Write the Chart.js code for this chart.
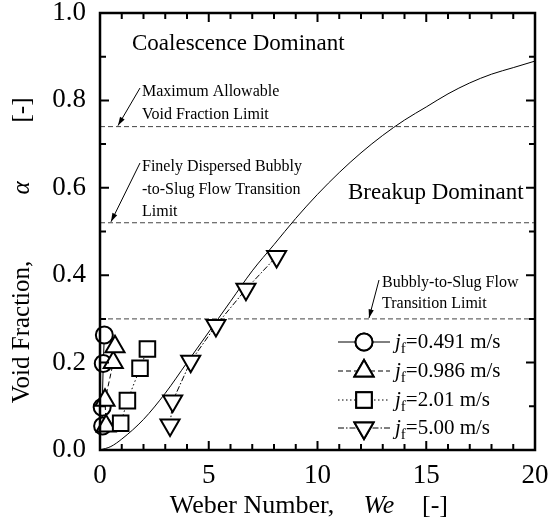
<!DOCTYPE html>
<html>
<head>
<script src="https://cdn.jsdelivr.net/npm/chart.js"></script>
<style>body{margin:0;background:#fff}</style>
</head>
<body>
<canvas id="c" width="554" height="528"></canvas>
<script>
// model curve
var weModel = [0, 0.5, 1, 2, 3, 4, 5, 6, 7, 8, 9, 10, 11, 12, 13, 14, 15, 16, 17, 18, 19, 20];
var alphaModel = [0, 0.008, 0.025, 0.07, 0.13, 0.2, 0.27, 0.34, 0.41, 0.47, 0.53, 0.585, 0.635, 0.68, 0.72, 0.755, 0.785, 0.815, 0.84, 0.86, 0.875, 0.89];

// measured points
var we0491 = [0.12, 0.1, 0.15, 0.2];
var alpha0491 = [0.055, 0.098, 0.198, 0.263];
var we0986 = [0.28, 0.23, 0.61, 0.69];
var alpha0986 = [0.055, 0.114, 0.2, 0.236];
var we201 = [0.95, 1.26, 1.84, 2.18];
var alpha201 = [0.061, 0.113, 0.187, 0.231];
var we500 = [3.22, 3.34, 4.17, 5.33, 6.71, 8.12];
var alpha500 = [0.057, 0.112, 0.203, 0.285, 0.368, 0.443];

// horizontal limits
var limitLevels = [0.74, 0.52, 0.30];

var seriesLabels = ['0.491 m/s', '0.986 m/s', '2.01 m/s', '5.00 m/s'];

var SERIF = '"Liberation Serif", "DejaVu Serif", serif';

function pts(xs, ys) {
  var out = [];
  for (var i = 0; i < xs.length; i++) out.push({x: xs[i], y: ys[i]});
  return out;
}

var datasets = [];
limitLevels.forEach(function(v) {
  datasets.push({
    data: [{x: 0, y: v}, {x: 20, y: v}],
    showLine: true, pointRadius: 0, borderColor: '#444', borderWidth: 1,
    borderDash: [5, 3], order: 7
  });
});
datasets.push({
  data: pts(weModel, alphaModel), showLine: true, pointRadius: 0,
  borderColor: '#000', borderWidth: 1, cubicInterpolationMode: 'monotone', order: 6
});

var styles = [
  {pointStyle: 'circle', radius: 8.5, rot: 0, dash: [], order: 4},
  {pointStyle: 'triangle', radius: 11, rot: 0, dash: [5, 3], order: 3},
  {pointStyle: 'rect', radius: 11, rot: 0, dash: [1.5, 2.5], order: 2},
  {pointStyle: 'triangle', radius: 11, rot: 180, dash: [6, 2, 1.5, 2], order: 1}
];
var seriesData = [pts(we0491, alpha0491), pts(we0986, alpha0986), pts(we201, alpha201), pts(we500, alpha500)];
seriesData.forEach(function(d, i) {
  var s = styles[i];
  datasets.push({
    data: d, showLine: true, clip: false,
    borderColor: '#000', borderWidth: 1, borderDash: s.dash,
    pointStyle: s.pointStyle, pointRadius: s.radius, pointRotation: s.rot,
    pointBorderWidth: 2, pointBorderColor: '#000', pointBackgroundColor: '#fff',
    order: s.order
  });
});

function drawArrow(ctx, x1, y1, x2, y2) {
  ctx.beginPath();
  ctx.moveTo(x1, y1);
  ctx.lineTo(x2, y2);
  ctx.stroke();
  var a = Math.atan2(y2 - y1, x2 - x1);
  ctx.beginPath();
  ctx.moveTo(x2, y2);
  ctx.lineTo(x2 - 9 * Math.cos(a - 0.3), y2 - 9 * Math.sin(a - 0.3));
  ctx.lineTo(x2 - 9 * Math.cos(a + 0.3), y2 - 9 * Math.sin(a + 0.3));
  ctx.closePath();
  ctx.fill();
}

var decorations = {
  id: 'decorations',
  afterDraw: function(chart) {
    var ctx = chart.ctx;
    var xs = chart.scales.x, ys = chart.scales.y;
    var ca = chart.chartArea;
    ctx.save();
    ctx.strokeStyle = '#000';
    ctx.fillStyle = '#000';

    // inward ticks on all four sides
    ctx.lineWidth = 2;
    for (var i = 0; i <= 20; i++) {
      var px = xs.getPixelForValue(i);
      var len = (i % 5 === 0) ? 9 : 6;
      ctx.beginPath();
      ctx.moveTo(px, ca.bottom); ctx.lineTo(px, ca.bottom - len);
      ctx.moveTo(px, ca.top); ctx.lineTo(px, ca.top + len);
      ctx.stroke();
    }
    for (var j = 0; j <= 10; j++) {
      var py = ys.getPixelForValue(j / 10);
      var l2 = (j % 2 === 0) ? 9 : 6;
      ctx.beginPath();
      ctx.moveTo(ca.left, py); ctx.lineTo(ca.left + l2, py);
      ctx.moveTo(ca.right, py); ctx.lineTo(ca.right - l2, py);
      ctx.stroke();
    }
    ctx.lineWidth = 2.5;
    ctx.strokeRect(ca.left, ca.top, ca.right - ca.left, ca.bottom - ca.top);

    // region labels
    ctx.textBaseline = 'middle';
    ctx.textAlign = 'left';
    ctx.font = '23px ' + SERIF;
    ctx.fillText('Coalescence Dominant', 132, 44);
    ctx.fillText('Breakup Dominant', 348, 193);
    ctx.font = '16px ' + SERIF;
    ctx.fillText('Maximum Allowable', 142, 92);
    ctx.fillText('Void Fraction Limit', 142, 115);
    ctx.fillText('Finely Dispersed Bubbly', 142, 167);
    ctx.fillText('-to-Slug Flow Transition', 142, 190);
    ctx.fillText('Limit', 142, 212);
    ctx.fillText('Bubbly-to-Slug Flow', 382, 283);
    ctx.fillText('Transition Limit', 382, 304);

    ctx.lineWidth = 1;
    drawArrow(ctx, 140, 88, 118, ys.getPixelForValue(limitLevels[0]) - 1);
    drawArrow(ctx, 140, 163, 111, ys.getPixelForValue(limitLevels[1]) - 1);
    drawArrow(ctx, 379, 280, 369, ys.getPixelForValue(limitLevels[2]) - 1);

    // legend
    var rows = [342, 371, 400, 428];
    for (var k = 0; k < 4; k++) {
      var s = styles[k];
      var y = rows[k];
      ctx.lineWidth = 1;
      ctx.setLineDash(s.dash);
      ctx.beginPath();
      ctx.moveTo(338, y); ctx.lineTo(390, y);
      ctx.stroke();
      ctx.setLineDash([]);
      ctx.lineWidth = 2;
      ctx.fillStyle = '#fff';
      Chart.helpers.drawPoint(ctx, {pointStyle: s.pointStyle, radius: s.radius, rotation: s.rot, borderWidth: 2}, 364, y);
      ctx.fill();
      ctx.stroke();
      ctx.fillStyle = '#000';
      var tx = 395;
      ctx.font = 'italic 21px ' + SERIF;
      ctx.fillText('j', tx, y);
      tx += ctx.measureText('j').width;
      ctx.font = '15px ' + SERIF;
      ctx.fillText('f', tx, y + 7);
      tx += ctx.measureText('f').width;
      ctx.font = '21px ' + SERIF;
      ctx.fillText('=' + seriesLabels[k], tx, y);
    }

    // axis titles
    ctx.font = '26px ' + SERIF;
    ctx.textAlign = 'center';
    ctx.fillText('Weber Number,', 252, 506);
    ctx.fillText('[-]', 435, 506);
    ctx.font = 'italic 26px ' + SERIF;
    ctx.fillText('We', 379, 506);
    ctx.save();
    ctx.translate(22, 0);
    ctx.rotate(-Math.PI / 2);
    ctx.font = '25px ' + SERIF;
    ctx.fillText('Void Fraction,', -332, 0);
    ctx.fillText('[-]', -110, 0);
    ctx.font = 'italic 25px ' + SERIF;
    ctx.fillText('\u03b1', -188, 0);
    ctx.restore();
    ctx.restore();
  }
};

new Chart(document.getElementById('c'), {
  type: 'scatter',
  data: {datasets: datasets},
  options: {
    responsive: false,
    animation: false,
    devicePixelRatio: 1,
    layout: {padding: {left: 0, right: 19, top: 12, bottom: 0}},
    plugins: {legend: {display: false}, tooltip: {enabled: false}},
    scales: {
      x: {
        type: 'linear', min: 0, max: 20,
        grid: {display: false},
        border: {display: false},
        ticks: {
          stepSize: 5, padding: 2, color: '#000', maxRotation: 0,
          font: {family: SERIF, size: 27}
        },
        afterFit: function(s) { s.height = 78; s.paddingLeft = 0; s.paddingRight = 0; }
      },
      y: {
        type: 'linear', min: 0, max: 1,
        grid: {display: false},
        border: {display: false},
        ticks: {
          stepSize: 0.2, padding: 6, color: '#000',
          font: {family: SERIF, size: 27},
          callback: function(v) { return v.toFixed(1); }
        },
        afterFit: function(s) { s.width = 100; s.paddingTop = 0; s.paddingBottom = 0; }
      }
    }
  },
  plugins: [decorations]
});
</script>
</body>
</html>
